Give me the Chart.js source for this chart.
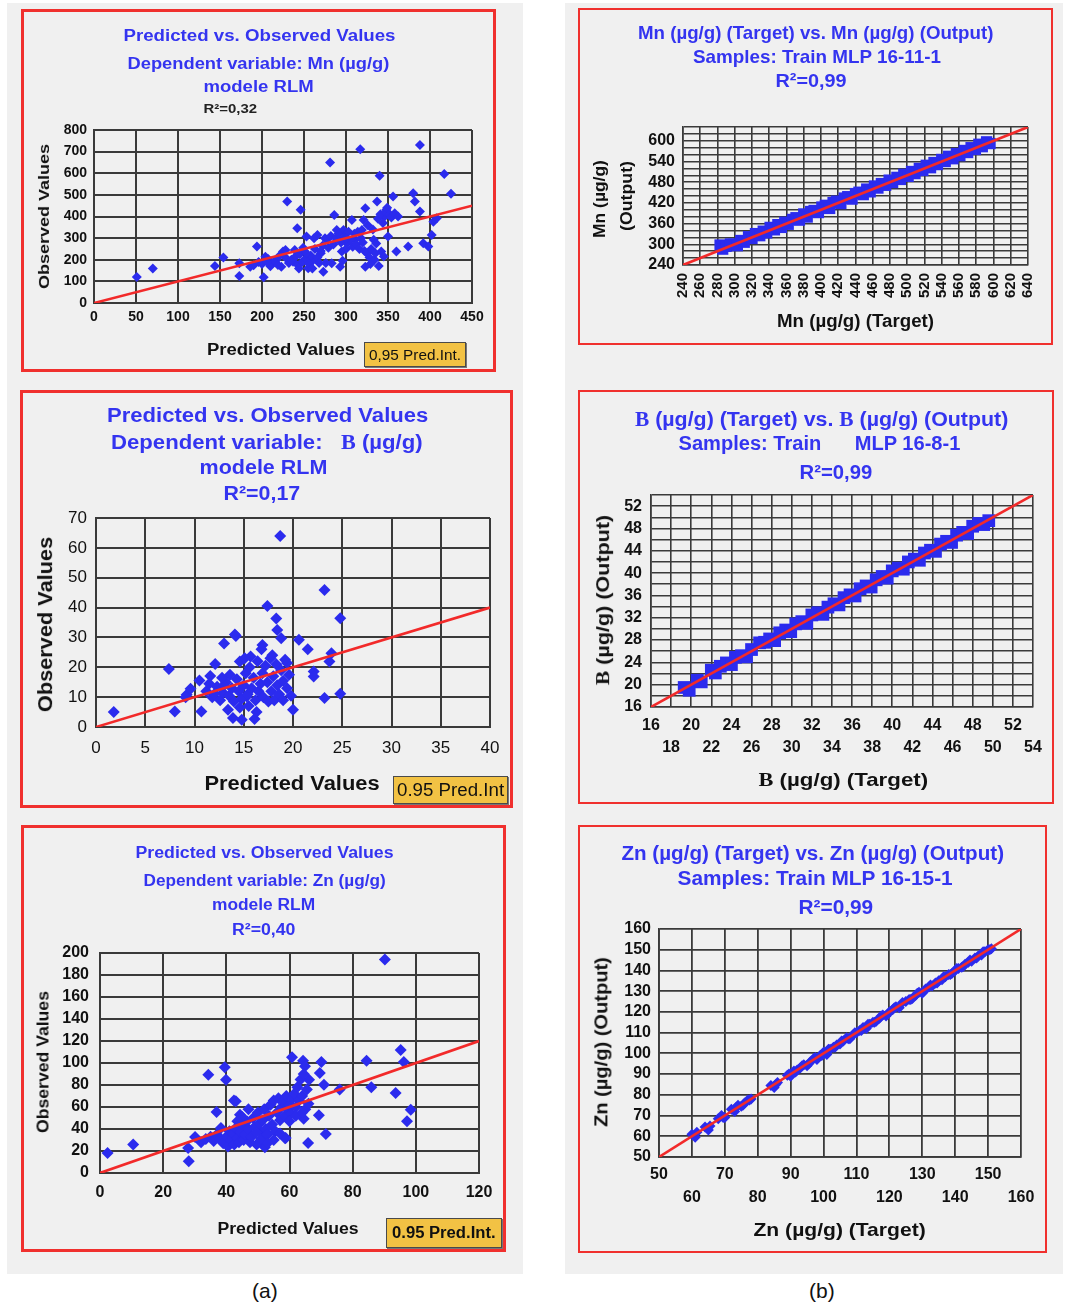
<!DOCTYPE html>
<html><head><meta charset="utf-8">
<script src="https://cdn.jsdelivr.net/npm/chart.js@4.4.1/dist/chart.umd.min.js"></script>
<style>
html,body{margin:0;padding:0;background:#fff;}
#page{position:relative;width:1065px;height:1304px;overflow:hidden;background:#fff;}
.col{position:absolute;background:#f0f0f0;}
.panel{position:absolute;box-sizing:border-box;border:3px solid #f0302e;}
canvas{position:absolute;}
.t{position:absolute;white-space:nowrap;line-height:1;}
.leg{position:absolute;box-sizing:border-box;background:#f2c244;border:1px solid #4a4a4a;box-shadow:1px 1px 0 #777;}
.sf{font-family:"Liberation Serif","Times New Roman",serif;}
</style></head>
<body><div id="page"></div>
<script>
// ---------------- DATA ----------------
// (a) RLM models: [predicted, observed]
const mnRlmPoints = [[51,120],[70,160],[144,171],[154,210],[173,125],[173,184],[186,168],[194,261],[202,119],[204,214],[212,184],[217,199],[225,238],[223,168],[230,469],[246,431],[242,346],[237,191],[239,245],[253,307],[255,161],[261,199],[273,145],[281,650],[286,407],[277,292],[289,338],[293,168],[283,184],[297,338],[295,238],[307,384],[311,292],[317,711],[321,384],[323,438],[325,230],[323,168],[333,292],[337,469],[340,588],[339,171],[342,238],[348,431],[350,307],[346,400],[356,492],[360,238],[374,261],[380,508],[382,469],[388,731],[388,423],[392,276],[398,261],[402,315],[404,376],[408,392],[417,596],[425,505],[319,338],[301,276],
[190,175],[196,190],[200,180],[207,205],[210,170],[215,192],[219,176],[228,210],[232,185],[235,200],[240,215],[243,175],[245,225],[248,190],[250,240],[252,205],[256,180],[258,220],[260,160],[263,250],[266,210],[268,185],[270,230],[272,265],[275,300],[279,255],[282,310],[285,270],[288,300],[291,320],[294,280],[298,305],[300,250],[303,330],[305,290],[308,260],[312,270],[314,330],[316,250],[318,300],[320,280],[322,240],[326,360],[328,210],[330,250],[332,340],[334,200],[336,275],[338,390],[341,410],[344,370],[347,420],[349,440],[352,410],[354,395],[358,415],[362,400],[345,215],[329,180],[335,230],[300,300],[310,320],[296,195],[244,160],[249,255],[253,230],[228,245],[262,300],[266,315],[270,240],[276,185],[220,215],[206,190]];
const bRlmPoints = [[1.8,5],[7.4,19.4],[8.0,5.2],[9.2,10.8],[9.6,12.8],[10.7,5.2],[11.6,17.1],[12.1,21.1],[13.0,28.0],[14.2,30.5],[14.6,21.9],[15.7,23.6],[16.9,27.5],[17.4,40.5],[18.3,36.3],[18.4,32.5],[18.8,29.7],[18.7,64.0],[19.4,21.4],[20.6,29.2],[21.5,26.0],[22.1,18.6],[22.1,16.9],[23.2,45.9],[23.2,9.7],[23.7,21.9],[23.9,24.7],[24.8,36.4],[24.8,11.1],[20.0,5.8],[16.1,2.7],[14.8,2.4],[13.9,3.0],[13.4,5.8],[15.3,10.2],[9.1,10],[10.5,15.6],[14.1,31.0],
[11.2,12],[11.8,10],[12.3,13.5],[12.6,9],[12.9,11.5],[13.2,15],[13.5,10.5],[13.8,13],[14.0,8.5],[14.3,16],[14.5,12],[14.8,9.5],[15.0,14],[15.2,18],[15.4,11],[15.6,20],[15.8,13],[16.0,16.5],[16.2,9],[16.4,22],[16.5,12],[16.7,14.5],[16.9,18],[17.0,10],[17.2,20.5],[17.4,15],[17.5,8.5],[17.7,23],[17.8,12],[18.0,17],[18.1,9],[18.3,21],[18.4,14],[18.6,11],[18.8,19],[19.0,15.5],[19.2,22.5],[19.4,13],[19.6,17.5],[19.8,10.5],[12.0,11],[13.0,14],[14.6,6.5],[15.5,7],[16.3,5],[11.5,14.5],[12.8,16.5],[13.6,17.5],[17.9,24],[19.0,9],[15.1,23],[16.8,26]];
const znRlmPoints = [[2.4,18.2],[10.5,25.8],[27.9,22.7],[28.1,10.6],[30.1,32.7],[34.3,89.4],[36.9,55.5],[38.3,40.9],[39.5,96.1],[39.9,84.8],[43.0,65.2],[44.3,53],[50.6,37.9],[49.6,25.8],[52.2,23.3],[58.8,31.8],[60.8,105.2],[64.3,102.1],[64.9,97],[66.2,84.8],[65.9,27.3],[64.5,49.4],[69.3,52.4],[70.1,100.9],[69.6,90.9],[70.9,80.3],[71.5,35.5],[75.9,75.8],[84.4,102.1],[85.9,77.9],[90.2,194],[93.6,72.7],[95.2,111.8],[96.2,100.9],[98.4,57.6],[97.2,47],[42.4,65.8],[58.6,31.5],
[32,28],[33.5,31],[35,33],[36,29],[37,35],[38,31],[39,27],[40,33],[40.5,24],[41,38],[41.5,30],[42,36],[42.5,26],[43,41],[43.5,32],[44,28],[44.5,37],[45,44],[45.5,30],[46,35],[46.5,47],[47,40],[47.5,28],[48,33],[48.5,50],[49,42],[49.5,37],[50,55],[50.5,45],[51,31],[51.5,48],[52,58],[52.5,40],[53,35],[53.5,52],[54,62],[54.5,44],[55,66],[55.5,38],[56,55],[56.5,68],[57,48],[57.5,60],[58,65],[58.5,52],[59,70],[59.5,58],[60,62],[60.5,54],[61,68],[61.5,72],[62,60],[62.5,78],[63,66],[63.5,85],[64,70],[64.5,90],[65,58],[65.5,76],[66,63],[47,58],[45,51],[55,30],[53,27],[57,36],[43.5,47],[60,47],[62,52],[64,55]];
// (b) MLP models: [target, output]
const mnMlpPoints = [[283,298],[286,286],[290,294],[295,301],[299,300],[303,296],[307,311],[311,306],[316,322],[320,317],[324,331],[329,325],[333,338],[337,333],[341,349],[346,342],[350,357],[354,349],[358,364],[362,358],[367,372],[371,377],[375,370],[380,388],[384,379],[388,395],[392,398],[397,392],[401,408],[405,413],[410,404],[414,421],[418,425],[423,418],[427,434],[431,438],[436,431],[440,447],[444,451],[449,444],[453,460],[457,452],[462,469],[466,463],[470,476],[475,471],[479,486],[483,479],[488,494],[492,488],[496,503],[501,497],[505,511],[509,505],[514,520],[518,514],[522,529],[527,522],[531,537],[535,531],[540,546],[544,540],[548,555],[553,548],[557,563],[561,557],[566,572],[570,566],[574,580],[579,575],[583,590],[587,583],[592,597],[596,592]];
const bMlpTarget = [19.3,19.8,20.6,21.0,22.0,22.4,22.9,23.5,24.0,24.4,25.0,25.5,26.0,26.8,27.3,27.8,28.3,28.8,29.4,29.9,30.4,31.0,31.5,32.0,32.6,33.1,33.6,34.2,34.7,35.2,35.8,36.3,36.8,37.4,37.9,38.4,39.0,39.5,40.0,40.6,41.1,41.6,42.2,42.7,43.2,43.8,44.3,44.8,45.4,45.9,46.4,47.0,47.5,48.0,48.6,49.1,49.6];
const bMlpOutput = [19.5,19.0,20.8,20.5,22.6,22.1,23.3,23.9,23.6,24.9,25.2,25.0,26.3,27.5,27.6,28.2,27.9,29.3,29.8,29.5,30.9,31.3,31.0,32.5,32.9,32.6,33.9,34.5,34.3,35.6,36.1,35.9,37.2,37.7,37.5,38.8,39.4,39.1,40.4,40.9,40.7,42.0,42.5,42.3,43.6,44.1,43.9,45.2,45.7,45.5,46.8,47.3,47.1,48.4,48.9,48.7,49.4];
const znMlpTarget = [60,61,64,65,68,69,70,72,73,74,75,76,77,78,84,85,86,89,90,91,92,93,94,95,96,97,98,99,100,101,102,103,104,105,106,107,108,109,110,111,112,113,114,115,116,117,118,119,120,121,122,123,125,126,127,128,129,130,131,132,133,134,135,136,137,138,139,140,141,142,143,144,145,146,147,148,149,150,151,
  61.5,65.5,69.5,73.5,75.5,77.5,85.5,89.5,91.5,93.5,95.5,97.5,99.5,101.5,103.5,105.5,107.5,109.5,111.5,113.5,115.5,117.5,119.5,121.5,124,126.5,128.5,130.5,132.5,134.5,136.5,138.5,140.5,142.5,144.5,146.5,148.5,150.5];
const znMlpOutput = [61,59.5,64.5,63,68.5,70,69,73,72,75,74.5,76,77.5,78,84.5,83.5,86,89.5,89,91.5,92,93,94.5,94,96,97.5,97,99,100.5,99.5,102,103,104,104.5,106,107.5,107,109,110,111,112.5,112,114,115,115.5,117,118.5,118,120,121,122.5,122,125,126,126.5,128,129.5,129,131,132,132.5,134,135,135.5,137,138,138.5,140,141,141.5,143,144,144.5,146,147,147.5,149,150,150.5,
  62,65,69,74,75,77.5,85,90,91,94,95,98,99,102,103,106,107,110,111,114,115,118,119,122,124.5,126,129,130,133,134,137,138,141,142,145,146,149,150];
// fitted/reference lines (y = x)
const mnRlmLine = [[0,0],[450,450]];
const bRlmLine = [[0,0],[40,40]];
const znRlmLine = [[0,0],[120,120]];
const mnMlpLine = [[240,240],[640,640]];
const bMlpLine = [[16,16],[54,54]];
const znMlpLine = [[50,50],[160,160]];
// tick labels
const mnRlmXTicks = ['0','50','100','150','200','250','300','350','400','450'];
const mnRlmYTicks = ['0','100','200','300','400','500','600','700','800'];
const bRlmXTicks = ['0','5','10','15','20','25','30','35','40'];
const bRlmYTicks = ['0','10','20','30','40','50','60','70'];
const znRlmXTicks = ['0','20','40','60','80','100','120'];
const znRlmYTicks = ['0','20','40','60','80','100','120','140','160','180','200'];
const mnMlpXTicks = ['240','260','280','300','320','340','360','380','400','420','440','460','480','500','520','540','560','580','600','620','640'];
const mnMlpYTicks = ['240','300','360','420','480','540','600'];
const bMlpXTicks = ['16','18','20','22','24','26','28','30','32','34','36','38','40','42','44','46','48','50','52','54'];
const bMlpYTicks = ['16','20','24','28','32','36','40','44','48','52'];
const znMlpXTicks = ['50','60','70','80','90','100','110','120','130','140','150','160'];
const znMlpYTicks = ['50','60','70','80','90','100','110','120','130','140','150','160'];

// ---------------- LAYOUT ----------------
const page = document.getElementById('page');
function div(cls, x, y, w, h, extra) {
  const d = document.createElement('div'); d.className = cls;
  Object.assign(d.style, {left:x+'px', top:y+'px', width:w+'px', height:h+'px'}, extra||{});
  page.appendChild(d); return d;
}
div('col', 7, 3, 516, 1271);
div('col', 565, 3, 498, 1271);

const FONT = '"Liberation Sans", Arial, Helvetica, sans-serif';
const BLUE = '#3434f0', PT = '#2b2bee', RED = '#f22a2a';

function T(html, cx, cy, o) {
  const s = document.createElement('span'); s.className = 't';
  s.innerHTML = html;
  s.style.font = (o.w || 'bold') + ' ' + o.s + 'px ' + FONT;
  s.style.color = o.c || '#111';
  page.appendChild(s);
  const w = s.offsetWidth, h = s.offsetHeight;
  s.style.left = (cx - w / 2) + 'px'; s.style.top = (cy - h / 2) + 'px';
  let tr = '';
  if (o.r) tr += 'rotate(-90deg) ';
  if (o.len) tr += 'scaleX(' + (o.len / w) + ')';
  s.style.transform = tr;
}

function axis(c, isX, XH, YW) {
  return {
    type: 'linear', min: c.min, max: c.max,
    ticks: {
      stepSize: c.step, autoSkip: false, padding: c.pad, color: '#111',
      font: {family: FONT, size: c.size, weight: c.weight || 'bold', lineHeight: c.lh || 1.2},
      maxRotation: c.rot || 0, minRotation: c.rot || 0,
      callback: (v) => {
        const s = String(Math.round(v * 1000) / 1000);
        const k = c.labels.indexOf(s);
        if (k < 0) return '';
        if (c.rows) return (k % 2 === 0) ? [s, ''] : ['', s];
        return s;
      }
    },
    grid: {color: c.gc || '#3a3a3a', lineWidth: c.gw || 2, drawTicks: false},
    border: {color: c.gc || '#3a3a3a', width: c.gw || 2},
    afterFit: isX ? (s) => { s.height = XH; s.paddingLeft = 0; s.paddingRight = 0; }
                  : (s) => { s.width = YW; s.paddingTop = 0; s.paddingBottom = 0; }
  };
}

function makeChart(box, plot, bw, xc, yc, pts, line, ps, pr) {
  div('panel', box[0], box[1], box[2], box[3], {borderWidth: bw + 'px'});
  const cv = document.createElement('canvas');
  cv.width = box[2]; cv.height = box[3];
  cv.style.left = box[0] + 'px'; cv.style.top = box[1] + 'px';
  page.appendChild(cv);
  const YW = plot[0] - box[0] - 4;
  const XH = box[1] + box[3] - plot[3] - 4;
  new Chart(cv, {
    type: 'scatter',
    data: {datasets: [
      {data: line.map(p => ({x: p[0], y: p[1]})), showLine: true, pointRadius: 0,
       borderColor: RED, borderWidth: 2.6, order: 0},
      {data: pts.map(p => ({x: p[0], y: p[1]})), pointStyle: ps, pointRadius: pr,
       backgroundColor: PT, borderWidth: 0, order: 1}
    ]},
    options: {
      responsive: false, animation: false, events: [],
      layout: {padding: {left: 4, top: plot[1] - box[1], right: box[0] + box[2] - plot[2], bottom: 4}},
      plugins: {legend: {display: false}, tooltip: {enabled: false}},
      scales: {x: axis(xc, true, XH, YW), y: axis(yc, false, XH, YW)}
    }
  });
}

function zip(a, b) { return a.map((v, i) => [v, b[i]]); }

// ---- (a) Mn RLM ----
makeChart([21,9,475,363], [94,130,472,303], 3,
  {min:0,max:450,step:50,labels:mnRlmXTicks,size:14,pad:6},
  {min:0,max:800,step:100,labels:mnRlmYTicks,size:14,pad:7},
  mnRlmPoints, mnRlmLine, 'rectRot', 5);
T('Predicted vs. Observed Values', 259, 36, {s:16, c:BLUE, len:272});
T('Dependent variable: Mn (µg/g)', 258, 64, {s:16, c:BLUE, len:262});
T('modele RLM', 258, 87, {s:16, c:BLUE, len:110});
T('R²=0,32', 230, 108, {s:13, c:'#222', len:54});
T('Observed Values', 43, 216, {s:15, r:true, len:145});
T('Predicted Values', 281, 350, {s:16, len:148});
div('leg', 364, 342, 102, 25);
T('0,95 Pred.Int.', 415, 355, {s:14, w:'normal', len:92});

// ---- (a) B RLM ----
makeChart([20,390,493,418], [96,518,490,727], 3,
  {min:0,max:40,step:5,labels:bRlmXTicks,size:17,weight:'normal',pad:11},
  {min:0,max:70,step:10,labels:bRlmYTicks,size:17,weight:'normal',pad:9},
  bRlmPoints, bRlmLine, 'rectRot', 6);
T('Predicted vs. Observed Values', 267, 415, {s:20, c:BLUE, len:321});
T('Dependent variable:&nbsp;&nbsp; <span class="sf">B</span> (µg/g)', 267, 442, {s:20, c:BLUE, len:312});
T('modele RLM', 263, 467, {s:20, c:BLUE, len:128});
T('R²=0,17', 262, 493, {s:20, c:BLUE, len:77});
T('Observed Values', 45, 624, {s:20, r:true, len:175});
T('Predicted Values', 292, 783, {s:20, len:175});
div('leg', 393, 776, 115, 28);
T('0.95 Pred.Int', 450, 790, {s:18, w:'normal', len:107});

// ---- (a) Zn RLM ----
makeChart([21,825,485,427], [100,953,479,1173], 3,
  {min:0,max:120,step:20,labels:znRlmXTicks,size:16,pad:10},
  {min:0,max:200,step:20,labels:znRlmYTicks,size:16,pad:11},
  znRlmPoints, znRlmLine, 'rectRot', 6);
T('Predicted vs. Observed Values', 264, 853, {s:16, c:BLUE, len:258});
T('Dependent variable: Zn (µg/g)', 264, 881, {s:16, c:BLUE, len:242});
T('modele RLM', 263, 905, {s:16, c:BLUE, len:103});
T('R²=0,40', 263, 930, {s:16, c:BLUE, len:63});
T('Observed Values', 43, 1062, {s:16, r:true, len:142});
T('Predicted Values', 288, 1229, {s:16, len:141});
div('leg', 386, 1218, 116, 30);
T('0.95 Pred.Int.', 444, 1233, {s:16, len:104});

// ---- (b) Mn MLP ----
makeChart([578,8,475,337], [683,127,1028,265], 2,
  {min:240,max:640,step:20,labels:mnMlpXTicks,size:15,pad:8,rot:90,gw:1.6},
  {min:240,max:640,step:20,labels:mnMlpYTicks,size:16,pad:8,gw:1.6},
  mnMlpPoints, mnMlpLine, 'rect', 8);
T('Mn (µg/g) (Target) vs. Mn (µg/g) (Output)', 815, 33, {s:19, c:BLUE, len:355});
T('Samples: Train MLP 16-11-1', 817, 57, {s:19, c:BLUE, len:248});
T('R²=0,99', 811, 81, {s:19, c:BLUE, len:71});
T('Mn (µg/g)', 600, 199, {s:17, r:true, len:78});
T('(Output)', 626, 196, {s:17, r:true, len:70});
T('Mn (µg/g) (Target)', 855, 321, {s:18, len:157});

// ---- (b) B MLP ----
makeChart([578,390,476,414], [651,495,1033,707], 2,
  {min:16,max:54,step:2,labels:bMlpXTicks,size:16,pad:8,rows:true,lh:1.375,gw:1.6},
  {min:16,max:54,step:2,labels:bMlpYTicks,size:16,pad:9,gw:1.6},
  zip(bMlpTarget, bMlpOutput), bMlpLine, 'rect', 9);
T('<span class="sf">B</span> (µg/g) (Target) vs. <span class="sf">B</span> (µg/g) (Output)', 821, 419, {s:20, c:BLUE, len:373});
T('Samples: Train&nbsp;&nbsp;&nbsp;&nbsp;&nbsp; MLP 16-8-1', 819, 443, {s:20, c:BLUE, len:282});
T('R²=0,99', 836, 472, {s:20, c:BLUE, len:73});
T('<span class="sf">B</span> (µg/g) (Output)', 603, 600, {s:19, r:true, len:170});
T('<span class="sf">B</span> (µg/g) (Target)', 843, 780, {s:19, len:170});

// ---- (b) Zn MLP ----
makeChart([578,825,469,428], [659,929,1021,1157], 2,
  {min:50,max:160,step:10,labels:znMlpXTicks,size:16,pad:6,rows:true,lh:1.44,gw:1.8},
  {min:50,max:160,step:10,labels:znMlpYTicks,size:16,pad:8,gw:1.8},
  zip(znMlpTarget, znMlpOutput), znMlpLine, 'rectRot', 5.5);
T('Zn (µg/g) (Target) vs. Zn (µg/g) (Output)', 812, 853, {s:20, c:BLUE, len:382});
T('Samples: Train MLP 16-15-1', 815, 878, {s:20, c:BLUE, len:275});
T('R²=0,99', 836, 907, {s:20, c:BLUE, len:75});
T('Zn (µg/g) (Output)', 601, 1042, {s:19, r:true, len:170});
T('Zn (µg/g) (Target)', 839, 1230, {s:19, len:172});

// panel captions
T('(a)', 265, 1291, {s:21, w:'normal', len:0});
T('(b)', 822, 1291, {s:21, w:'normal', len:0});
</script></body></html>
